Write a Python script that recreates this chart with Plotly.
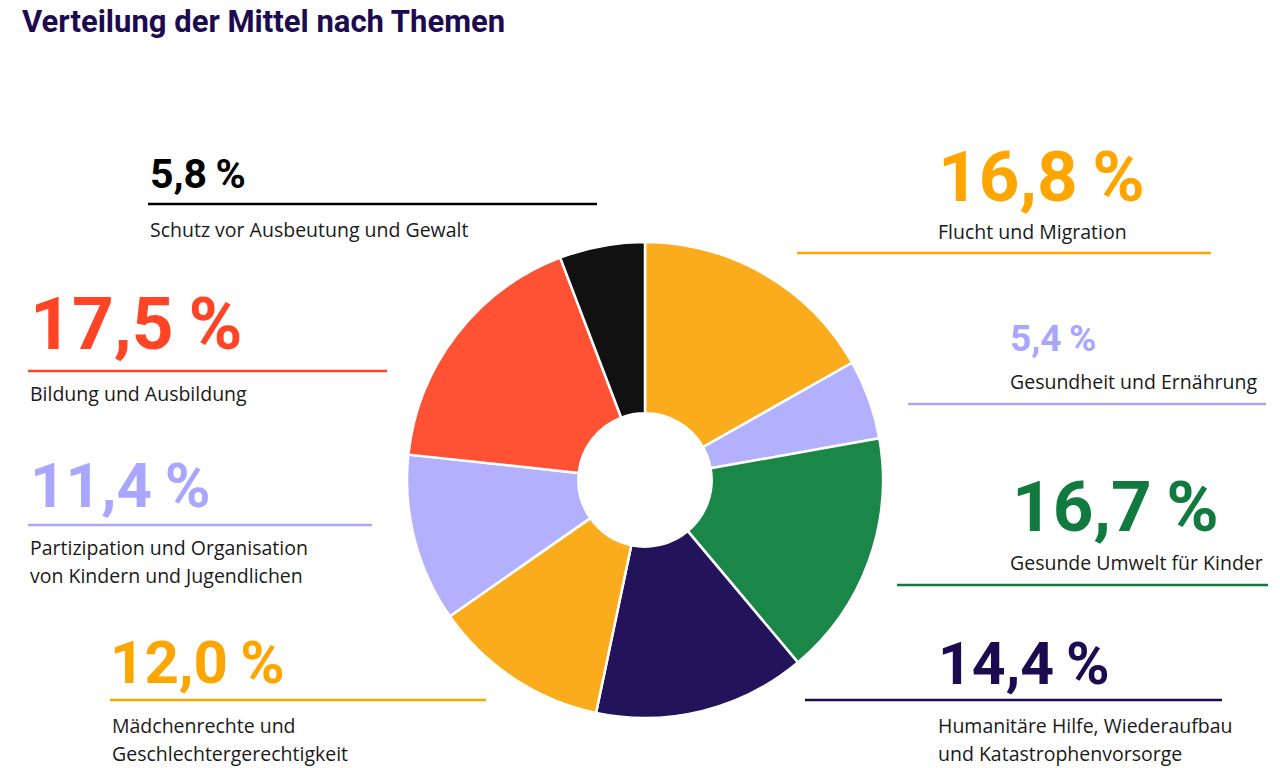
import plotly.graph_objects as go

# Themen im Uhrzeigersinn ab 12 Uhr
themen = [
    "Flucht und Migration",
    "Gesundheit und Ernährung",
    "Gesunde Umwelt für Kinder",
    "Humanitäre Hilfe, Wiederaufbau<br>und Katastrophenvorsorge",
    "Mädchenrechte und<br>Geschlechtergerechtigkeit",
    "Partizipation und Organisation<br>von Kindern und Jugendlichen",
    "Bildung und Ausbildung",
    "Schutz vor Ausbeutung und Gewalt",
]
anteile = [16.8, 5.4, 16.7, 14.4, 12.0, 11.4, 17.5, 5.8]
farben_segment = ["#FBAC1C", "#B3B0FD", "#1A8749", "#22135A", "#FBAC1C", "#B3B0FD", "#FF5234", "#111111"]
farben_text = ["#FFA500", "#A9A6FF", "#117A3E", "#1D0B50", "#FFA500", "#A9A6FF", "#FF4526", "#000000"]

# Layout der Beschriftungen (Pixel): Zahl x, Zahl-Mitte y, Schriftgröße, Label x, Label y, Linie x0, x1, y
beschriftung = [
    (936, 176, 71, 936, 231, 797, 1211, 253),
    (1008, 338, 37, 1008, 381, 908, 1266, 404),
    (1010, 506, 71, 1008, 562, 897, 1268, 585),
    (936, 663, 59, 936, 725, 805, 1222, 700),
    (108, 662, 60, 110, 725, 110, 486, 700),
    (28, 485, 62, 28, 547, 28, 372, 525),
    (28, 324, 73, 28, 393, 28, 387, 371),
    (148, 174, 41, 148, 229, 148, 597, 204),
]

W, H = 1280, 768
cx, cy, r = 645, 480, 238

fig = go.Figure()
fig.add_trace(go.Pie(
    labels=[t.replace("<br>", " ") for t in themen],
    values=anteile,
    sort=False,
    direction="clockwise",
    rotation=0,
    hole=0.28,
    marker=dict(colors=farben_segment, line=dict(color="white", width=2.5)),
    textinfo="none",
    hoverinfo="label+percent",
    showlegend=False,
    domain=dict(x=[(cx - r) / W, (cx + r) / W], y=[(H - cy - r) / H, (H - cy + r) / H]),
))

annots = []
shapes = []
for wert, text, farbe, (nx, ny, ns, lx, ly, x0, x1, liny) in zip(anteile, themen, farben_text, beschriftung):
    zahl = f"{wert:.1f}".replace(".", ",") + "\u2009%"
    annots.append(dict(x=nx, y=ny, xref="x", yref="y", text=zahl, showarrow=False,
                       xanchor="left", yanchor="middle",
                       font=dict(family="Roboto", size=ns, color=farbe, weight=700)))
    for i, zeile in enumerate(text.split("<br>")):
        annots.append(dict(x=lx, y=ly + i * 28, xref="x", yref="y", text=zeile, showarrow=False,
                           xanchor="left", yanchor="middle",
                           font=dict(family="Open Sans", size=19.5, color="#1a1a1a")))
    shapes.append(dict(type="line", xref="x", yref="y", x0=x0, x1=x1, y0=liny, y1=liny,
                       line=dict(color=farbe, width=2.5)))

annots.append(dict(x=20, y=21, xref="x", yref="y", text="Verteilung der Mittel nach Themen",
                   showarrow=False, xanchor="left", yanchor="middle",
                   font=dict(family="Roboto", size=31, color="#1D0B50", weight=700)))

fig.update_layout(
    width=W, height=H,
    margin=dict(l=0, r=0, t=0, b=0),
    paper_bgcolor="white", plot_bgcolor="white",
    xaxis=dict(range=[0, W], visible=False, fixedrange=True),
    yaxis=dict(range=[H, 0], visible=False, fixedrange=True),
    annotations=annots,
    shapes=shapes,
)

fig.write_html("out.html", config={"displayModeBar": False},
               post_script="document.body.style.margin='0';")
